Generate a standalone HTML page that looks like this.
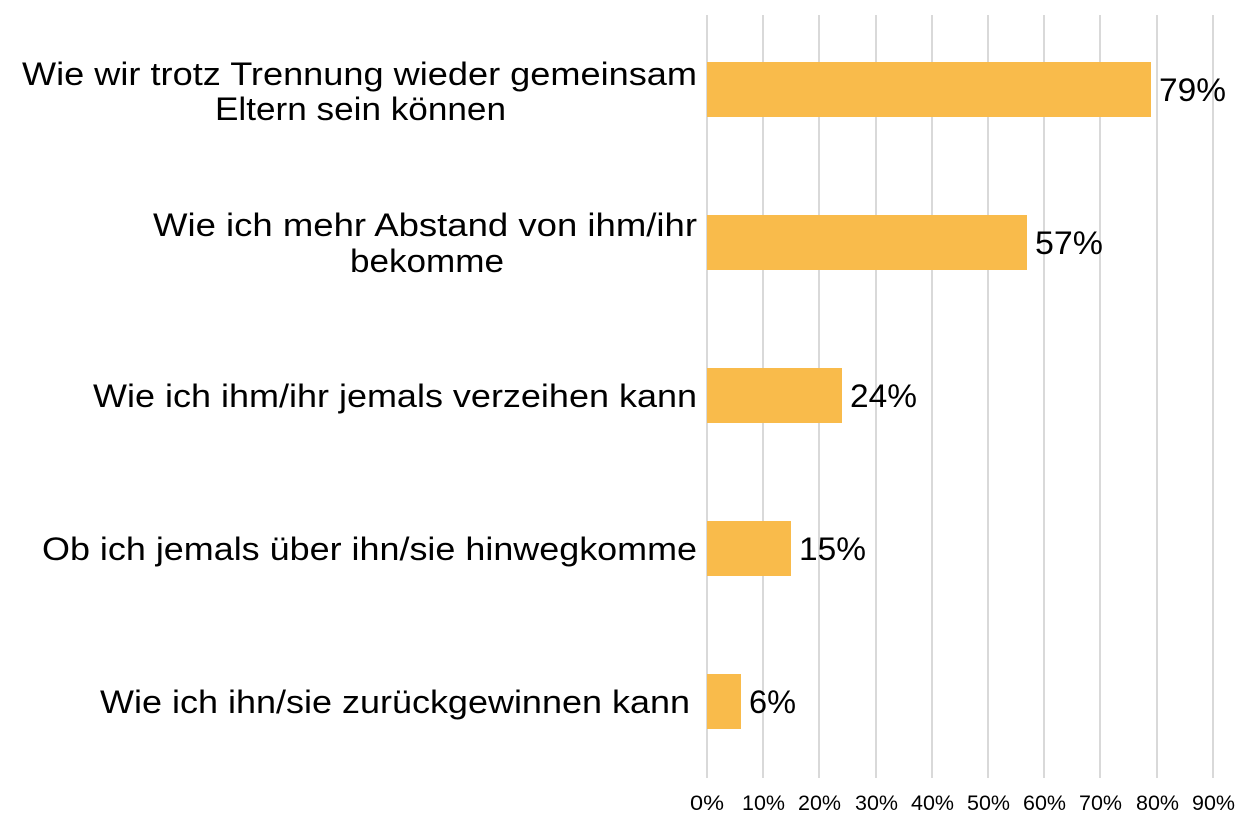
<!DOCTYPE html>
<html><head><meta charset="utf-8"><style>
body{margin:0;background:#fff;}
svg text{font-family:"Liberation Sans",sans-serif;fill:#000;}
</style></head><body>
<svg width="1258" height="830" xmlns="http://www.w3.org/2000/svg">
<g stroke="#d9d9d9" stroke-width="2">
<line x1="707" y1="15" x2="707" y2="778"/><line x1="763" y1="15" x2="763" y2="778"/><line x1="819" y1="15" x2="819" y2="778"/><line x1="876" y1="15" x2="876" y2="778"/><line x1="932" y1="15" x2="932" y2="778"/><line x1="988" y1="15" x2="988" y2="778"/><line x1="1044" y1="15" x2="1044" y2="778"/><line x1="1100" y1="15" x2="1100" y2="778"/><line x1="1157" y1="15" x2="1157" y2="778"/><line x1="1213" y1="15" x2="1213" y2="778"/>
</g>
<g fill="#f9bb4b">
<rect x="707" y="62" width="444" height="55"/>
<rect x="707" y="215" width="320" height="55"/>
<rect x="707" y="368" width="135" height="55"/>
<rect x="707" y="521" width="84" height="55"/>
<rect x="707" y="674" width="34" height="55"/>
</g>
<g font-size="32" lengthAdjust="spacingAndGlyphs">
<text x="1159" y="101" textLength="67" lengthAdjust="spacingAndGlyphs">79%</text>
<text x="1035" y="254" textLength="68" lengthAdjust="spacingAndGlyphs">57%</text>
<text x="850" y="407" textLength="67" lengthAdjust="spacingAndGlyphs">24%</text>
<text x="799" y="560" textLength="67" lengthAdjust="spacingAndGlyphs">15%</text>
<text x="749" y="713" textLength="47" lengthAdjust="spacingAndGlyphs">6%</text>
</g>
<g font-size="32">
<text x="22" y="85" textLength="675" lengthAdjust="spacingAndGlyphs">Wie wir trotz Trennung wieder gemeinsam</text>
<text x="215" y="120" textLength="291" lengthAdjust="spacingAndGlyphs">Eltern sein können</text>
<text x="153" y="236" textLength="544" lengthAdjust="spacingAndGlyphs">Wie ich mehr Abstand von ihm/ihr</text>
<text x="350" y="272" textLength="154" lengthAdjust="spacingAndGlyphs">bekomme</text>
<text x="93" y="407" textLength="604" lengthAdjust="spacingAndGlyphs">Wie ich ihm/ihr jemals verzeihen kann</text>
<text x="42" y="560" textLength="655" lengthAdjust="spacingAndGlyphs">Ob ich jemals über ihn/sie hinwegkomme</text>
<text x="100" y="713" textLength="590" lengthAdjust="spacingAndGlyphs">Wie ich ihn/sie zurückgewinnen kann</text>
</g>
<g font-size="21">
<text x="690" y="810" textLength="34" lengthAdjust="spacingAndGlyphs">0%</text>
<text x="742" y="810" textLength="43" lengthAdjust="spacingAndGlyphs">10%</text>
<text x="798" y="810" textLength="43" lengthAdjust="spacingAndGlyphs">20%</text>
<text x="855" y="810" textLength="43" lengthAdjust="spacingAndGlyphs">30%</text>
<text x="911" y="810" textLength="43" lengthAdjust="spacingAndGlyphs">40%</text>
<text x="967" y="810" textLength="43" lengthAdjust="spacingAndGlyphs">50%</text>
<text x="1023" y="810" textLength="43" lengthAdjust="spacingAndGlyphs">60%</text>
<text x="1079" y="810" textLength="43" lengthAdjust="spacingAndGlyphs">70%</text>
<text x="1136" y="810" textLength="43" lengthAdjust="spacingAndGlyphs">80%</text>
<text x="1192" y="810" textLength="43" lengthAdjust="spacingAndGlyphs">90%</text>
</g>
</svg>
</body></html>
